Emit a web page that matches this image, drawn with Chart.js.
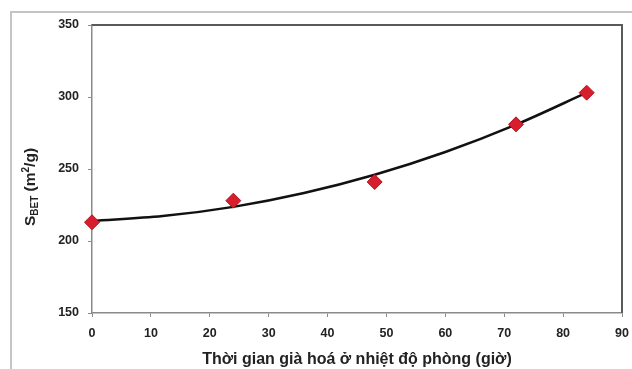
<!DOCTYPE html>
<html>
<head>
<meta charset="utf-8">
<script src="https://cdn.jsdelivr.net/npm/chart.js@4/dist/chart.umd.min.js"></script>
<style>
html,body{margin:0;padding:0;background:#fff;}
#wrap{position:absolute;left:0;top:0;width:632px;height:369px;}
</style>
</head>
<body>
<div id="wrap"><canvas id="c" width="632" height="369"></canvas></div>
<script>
// Measured data points (hours, S_BET m2/g)
const hours = [0, 24, 48, 72, 84];
const sbet = [213, 228, 241, 281, 303];
// Trend curve
const trendHours = [0, 12, 24, 36, 48, 60, 72, 84];
const trendValues = [214, 217.3, 223.7, 233.3, 246, 261.8, 280.8, 303];
// Axis settings
const xTicks = [0, 10, 20, 30, 40, 50, 60, 70, 80, 90];
const yTicks = [150, 200, 250, 300, 350];
const xTitle = 'Thời gian già hoá ở nhiệt độ phòng (giờ)';

const PLOT = {left: 92, right: 622, top: 25, bottom: 313};
const FONT = '"Liberation Sans", Arial, sans-serif';

const framePlugin = {
  id: 'frame',
  beforeDraw(chart) {
    const ctx = chart.ctx;
    ctx.save();
    ctx.fillStyle = '#fff';
    ctx.fillRect(0, 0, chart.width, chart.height);
    ctx.strokeStyle = '#c4c4c4';
    ctx.lineWidth = 2;
    ctx.beginPath();
    ctx.moveTo(11, chart.height + 2);
    ctx.lineTo(11, 12);
    ctx.lineTo(chart.width + 2, 12);
    ctx.stroke();
    ctx.restore();
  },
  afterDraw(chart) {
    const ctx = chart.ctx;
    const a = chart.chartArea;
    ctx.save();
    ctx.strokeStyle = '#5a5a5a';
    ctx.lineWidth = 2;
    ctx.beginPath();
    ctx.moveTo(a.left, a.top);
    ctx.lineTo(a.right, a.top);
    ctx.lineTo(a.right, a.bottom);
    ctx.stroke();
    // Y axis title with subscript and superscript
    ctx.translate(30, 187);
    ctx.rotate(-Math.PI / 2);
    ctx.fillStyle = '#222';
    ctx.textBaseline = 'alphabetic';
    const big = 'bold 15.5px ' + FONT;
    const small = 'bold 10px ' + FONT;
    const parts = [
      {t: 'S', f: big, dy: 0},
      {t: 'BET', f: small, dy: 3},
      {t: ' (m', f: big, dy: 0},
      {t: '2', f: small, dy: -6},
      {t: '/g)', f: big, dy: 0}
    ];
    let w = 0;
    parts.forEach(p => { ctx.font = p.f; p.w = ctx.measureText(p.t).width; w += p.w; });
    let x = -w / 2;
    parts.forEach(p => {
      ctx.font = p.f;
      ctx.fillText(p.t, x, 5 + p.dy);
      x += p.w;
    });
    ctx.restore();
  }
};

new Chart(document.getElementById('c'), {
  type: 'scatter',
  data: {
    datasets: [
      {
        label: 'S_BET',
        data: hours.map((h, i) => ({x: h, y: sbet[i]})),
        pointStyle: 'rectRot',
        pointRadius: 7.5,
        pointHoverRadius: 7.5,
        backgroundColor: '#d81e2c',
        borderColor: '#b01522',
        borderWidth: 1,
        showLine: false,
        clip: false,
        order: 1
      },
      {
        label: 'trend',
        data: trendHours.map((h, i) => ({x: h, y: trendValues[i]})),
        showLine: true,
        pointRadius: 0,
        borderColor: '#111',
        borderWidth: 2.5,
        cubicInterpolationMode: 'monotone',
        fill: false,
        order: 2
      }
    ]
  },
  options: {
    responsive: false,
    animation: false,
    devicePixelRatio: 1,
    layout: {padding: {left: 0, right: 632 - PLOT.right, top: PLOT.top, bottom: 0}},
    plugins: {legend: {display: false}, tooltip: {enabled: false}},
    scales: {
      x: {
        type: 'linear',
        min: 0, max: 90,
        afterBuildTicks(s) { s.ticks = xTicks.map(v => ({value: v})); },
        afterFit(s) { s.height = 369 - PLOT.bottom; s.paddingLeft = 0; s.paddingRight = 0; },
        border: {display: true, color: '#8a8a8a', width: 1.5},
        grid: {display: true, drawOnChartArea: false, drawTicks: true, tickLength: 4, color: '#8a8a8a'},
        ticks: {color: '#222', font: {family: FONT, size: 12.5, weight: 'bold'}, padding: 9, maxRotation: 0},
        title: {display: true, text: xTitle, color: '#222', font: {family: FONT, size: 16, weight: 'bold'}, padding: {top: 1, bottom: 0}}
      },
      y: {
        type: 'linear',
        min: 150, max: 350,
        afterBuildTicks(s) { s.ticks = yTicks.map(v => ({value: v})); },
        afterFit(s) { s.width = PLOT.left; s.paddingTop = 0; s.paddingBottom = 0; },
        border: {display: true, color: '#8a8a8a', width: 1.5},
        grid: {display: true, drawOnChartArea: false, drawTicks: true, tickLength: 4, color: '#8a8a8a'},
        ticks: {color: '#222', font: {family: FONT, size: 12.5, weight: 'bold'}, padding: 9}
      }
    }
  },
  plugins: [framePlugin]
});
</script>
</body>
</html>
